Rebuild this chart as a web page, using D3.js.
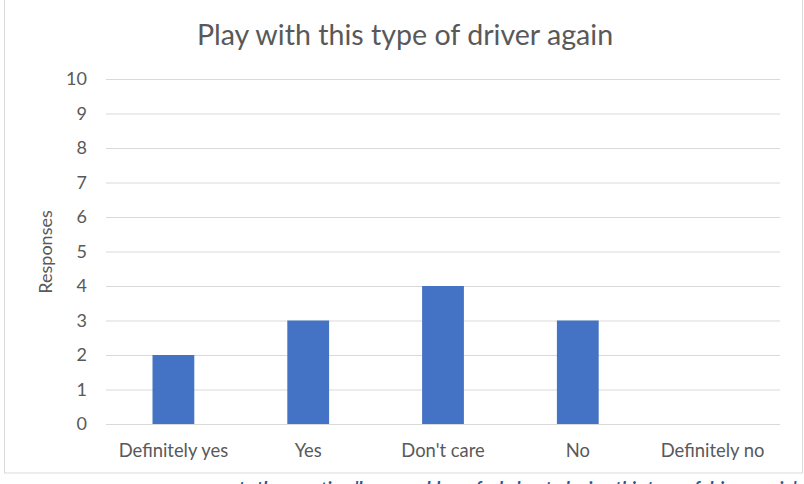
<!DOCTYPE html>
<html>
<head>
<meta charset="utf-8">
<script src="https://cdn.jsdelivr.net/npm/d3@7"></script>
<style>
  body { margin: 0; background: #fff; }
  svg { display: block; font-family: Lato, "Open Sans", sans-serif; }
</style>
</head>
<body>
<svg width="804" height="484"></svg>
<script>
const width = 804;
const height = 484;

// data
const categories = ["Definitely yes", "Yes", "Don't care", "No", "Definitely no"];
const responses = [2, 3, 4, 3, 0];
const yTicks = [0, 1, 2, 3, 4, 5, 6, 7, 8, 9, 10];

const plotLeft = 106;
const plotRight = 780;
const plotTop = 79;
const plotBottom = 424;
const textColor = "#595959";

const svg = d3.select("svg");

// chart border (top edge sits just above the crop)
svg.append("rect")
    .attr("x", 4.5)
    .attr("y", -2)
    .attr("width", 798)
    .attr("height", 475)
    .attr("fill", "#fff")
    .attr("stroke", "#d9d9d9");

const x = d3.scaleBand()
    .domain(categories)
    .range([plotLeft, plotRight])
    .paddingInner(0.69)
    .paddingOuter(0.345);

const y = d3.scaleLinear()
    .domain([0, 10])
    .range([plotBottom, plotTop]);

// gridlines + y labels
const yAxis_g = svg.append("g")
    .attr("transform", "translate(" + plotLeft + ",0)")
    .call(d3.axisLeft(y)
        .tickValues(yTicks)
        .tickSize(-(plotRight - plotLeft))
        .tickPadding(19));

yAxis_g.select(".domain").remove();
yAxis_g.selectAll(".tick line")
    .attr("stroke", "#d9d9d9")
    .attr("stroke-width", 1);
yAxis_g.selectAll(".tick text")
    .attr("fill", textColor)
    .style("font-size", "18px")
    .style("font-family", "Lato, sans-serif");

// bars
svg.append("g")
    .selectAll("rect")
    .data(responses)
    .enter()
    .append("rect")
    .attr("x", (d, i) => x(categories[i]))
    .attr("y", d => y(d))
    .attr("width", x.bandwidth())
    .attr("height", d => y(0) - y(d))
    .attr("fill", "#4472c4");

// category labels
const xAxis_g = svg.append("g")
    .attr("transform", "translate(0," + plotBottom + ")")
    .call(d3.axisBottom(x).tickSize(0).tickPadding(20));

xAxis_g.select(".domain").remove();
xAxis_g.selectAll(".tick text")
    .attr("fill", textColor)
    .style("font-size", "18.4px")
    .style("font-family", "Lato, sans-serif");

// title
svg.append("text")
    .attr("x", 405)
    .attr("y", 45)
    .attr("text-anchor", "middle")
    .attr("fill", textColor)
    .style("font-size", "28.6px")
    .text("Play with this type of driver again");

// y axis title
svg.append("text")
    .attr("transform", "translate(52,252) rotate(-90)")
    .attr("text-anchor", "middle")
    .attr("fill", textColor)
    .style("font-size", "18px")
    .text("Responses");

// caption below the chart, cut off by the crop
svg.append("text")
    .attr("x", 229)
    .attr("y", 495)
    .attr("fill", "#2f5496")
    .style("font-size", "18px")
    .style("font-weight", "bold")
    .style("font-style", "italic")
    .text("nts the question 'how would you feel about playing this type of driver again'");
</script>
</body>
</html>
